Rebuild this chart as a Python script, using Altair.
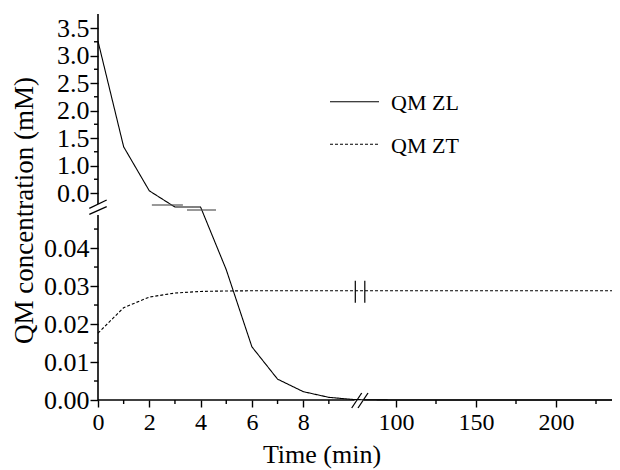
import altair as alt
import pandas as pd

# ---- data ----
zl_time = [0, 1, 2, 3, 4, 5, 6, 7, 8, 9, 10, 100, 150, 200, 235]
zl_conc = [3.26, 1.34, 0.54, 0.23, 0.23, 0.0343, 0.0140, 0.0055, 0.0022, 0.0007, 0.0001, 0, 0, 0, 0]
zt_time = [0, 1, 2, 3, 4, 5, 6, 7, 8, 9, 10, 100, 150, 200, 235]
zt_conc = [0.0176, 0.0243, 0.0271, 0.02815, 0.02858, 0.0287, 0.02875, 0.02876, 0.02876,
           0.02876, 0.02876, 0.02876, 0.02876, 0.02876, 0.02876]
series_names = ["QM ZL", "QM ZT"]

x_major = [0, 2, 4, 6, 8, 100, 150, 200]
x_minor = [1, 3, 5, 7, 9, 125, 175, 225]
y_major = [0, 0.01, 0.02, 0.03, 0.04, 0.5, 1.0, 1.5, 2.0, 2.5, 3.0, 3.5]
y_minor = [0.005, 0.015, 0.025, 0.035, 0.045, 0.75, 1.25, 1.75, 2.25, 2.75, 3.25]

x_domain = [0, 10, 80, 235]          # broken time axis: 0-10 | 80-235
y_domain = [0, 0.0487, 0.3, 3.755]   # broken conc axis: lower | upper
bar_start = [2.1, 3.47]              # small horizontal break marks on ZL
bar_end = [3.31, 4.6]

W, H = 514, 386
FONT = "Liberation Serif"

xscale = alt.Scale(domain=x_domain, range=[0, 256.5, 266, W], nice=False, zero=False)
yscale = alt.Scale(domain=y_domain, range=[H, 201, 190, 0], nice=False, zero=False)

xaxis = alt.Axis(values=x_major, domain=False, grid=False, tickSize=7, tickWidth=1.4,
                 tickColor="black", labelFontSize=24, labelFont=FONT, labelColor="black",
                 labelPadding=3, labelOverlap=False, labelFlush=False, format="d",
                 title="Time (min)", titleFont=FONT, titleFontSize=26, titleFontWeight="normal",
                 titleColor="black", titleX=223.5, titleY=62, titleBaseline="alphabetic",
                 titleAlign="center")
yaxis = alt.Axis(values=y_major, domain=False, grid=False, tickSize=8, tickWidth=1.4,
                 tickColor="black", labelFontSize=26, labelFont=FONT, labelColor="black",
                 labelPadding=1, labelOverlap=False, labelFlush=False,
                 labelExpr="datum.value < 0.1 ? format(datum.value, '.2f') : (abs(datum.value - 0.5) < 1e-9 ? '0.0' : format(datum.value, '.1f'))",
                 title="QM concentration (mM)", titleFont=FONT, titleFontSize=27,
                 titleFontWeight="normal", titleColor="black", titleX=-66, titleY=196,
                 titleBaseline="alphabetic", titleAlign="center")


def X(field="t"):
    return alt.X(f"{field}:Q", scale=xscale, axis=xaxis)


def Y(field="v"):
    return alt.Y(f"{field}:Q", scale=yscale, axis=yaxis)


lines_df = pd.DataFrame({
    "t": zl_time + zt_time,
    "v": zl_conc + zt_conc,
    "series": [series_names[0]] * len(zl_time) + [series_names[1]] * len(zt_time),
})

lines = alt.Chart(lines_df).mark_line(color="black", strokeWidth=1.1).encode(
    x=X(), y=Y(),
    strokeDash=alt.StrokeDash("series:N", scale=alt.Scale(domain=series_names, range=[[1, 0], [3, 2]]),
                              legend=None),
    detail="series:N",
)

# axis lines (broken)
xdom_df = pd.DataFrame({"t": [x_domain[0], x_domain[2]], "t2": [x_domain[1], x_domain[3]], "v": [0, 0]})
xdom = alt.Chart(xdom_df).mark_rule(color="black", strokeWidth=1.6).encode(
    x=X(), x2=alt.X2("t2"), y=Y())
ydom_df = pd.DataFrame({"t": [0, 0], "v": [y_domain[0], y_domain[2]], "v2": [y_domain[1], y_domain[3]]})
ydom = alt.Chart(ydom_df).mark_rule(color="black", strokeWidth=1.6).encode(
    x=X(), y=Y(), y2=alt.Y2("v2"))

# minor ticks
xmin_df = pd.DataFrame({"t": x_minor})
xmin = alt.Chart(xmin_df).mark_rule(color="black", strokeWidth=1.4).encode(
    x=X(), y=alt.value(H), y2=alt.value(H + 4))
ymin_df = pd.DataFrame({"v": y_minor})
ymin = alt.Chart(ymin_df).mark_rule(color="black", strokeWidth=1.4).encode(
    y=Y(), x=alt.value(0), x2=alt.value(-4))

# break marks
xb_df = pd.DataFrame({"t": [x_domain[1]], "v": [0]})
xslash1 = alt.Chart(xb_df).mark_rule(color="black", strokeWidth=1.3, xOffset=-2.8, x2Offset=7.2,
                                      yOffset=8, y2Offset=-7).encode(
    x=X(), x2=alt.X2("t"), y=Y(), y2=alt.Y2("v"))
xslash2 = alt.Chart(xb_df).mark_rule(color="black", strokeWidth=1.3, xOffset=3.5, x2Offset=13.5,
                                      yOffset=8, y2Offset=-7).encode(
    x=X(), x2=alt.X2("t"), y=Y(), y2=alt.Y2("v"))

yb_df = pd.DataFrame({"t": [0], "v": [y_domain[2]]})
yslash1 = alt.Chart(yb_df).mark_rule(color="black", strokeWidth=1.3, xOffset=-8.7, x2Offset=8.7,
                                      yOffset=4.3, y2Offset=-4).encode(
    x=X(), x2=alt.X2("t"), y=Y(), y2=alt.Y2("v"))
yslash2 = alt.Chart(yb_df).mark_rule(color="black", strokeWidth=1.3, xOffset=-8.7, x2Offset=8.7,
                                      yOffset=10.3, y2Offset=2.7).encode(
    x=X(), x2=alt.X2("t"), y=Y(), y2=alt.Y2("v"))

# "||" on the ZT line at the time break
zb_df = pd.DataFrame({"t": [x_domain[1], x_domain[2]], "v": [zt_conc[-1], zt_conc[-1]]})
zbreak = alt.Chart(zb_df).mark_rule(color="black", strokeWidth=1.2, xOffset=0.8, x2Offset=0.8,
                                     yOffset=-10, y2Offset=12).encode(
    x=X(), x2=alt.X2("t"), y=Y(), y2=alt.Y2("v"))

# small horizontal marks on ZL crossing the conc break
hb_df = pd.DataFrame({"t": bar_start, "t2": bar_end, "v": [y_domain[2], y_domain[2]], "k": [0, 1]})
hbar1 = alt.Chart(hb_df).transform_filter("datum.k == 0").mark_rule(
    color="#555555", strokeWidth=1.2, yOffset=1).encode(x=X(), x2=alt.X2("t2"), y=Y())
hbar2 = alt.Chart(hb_df).transform_filter("datum.k == 1").mark_rule(
    color="#555555", strokeWidth=1.2, yOffset=6).encode(x=X(), x2=alt.X2("t2"), y=Y())

# legend
leg1_df = pd.DataFrame({"name": [series_names[0]]})
leg2_df = pd.DataFrame({"name": [series_names[1]]})
leg_line1 = alt.Chart(leg1_df).mark_rule(color="black", strokeWidth=1.1).encode(
    x=alt.value(232), x2=alt.value(281), y=alt.value(87.7))
leg_line2 = alt.Chart(leg2_df).mark_rule(color="black", strokeWidth=1.1, strokeDash=[3, 2]).encode(
    x=alt.value(232), x2=alt.value(281), y=alt.value(130.3))
leg_text1 = alt.Chart(leg1_df).mark_text(font=FONT, fontSize=22, align="left", baseline="alphabetic",
                                          color="black").encode(
    x=alt.value(293), y=alt.value(96), text="name:N")
leg_text2 = alt.Chart(leg2_df).mark_text(font=FONT, fontSize=22, align="left", baseline="alphabetic",
                                          color="black").encode(
    x=alt.value(293), y=alt.value(139), text="name:N")

chart = alt.layer(
    xdom, ydom, xmin, ymin, lines, xslash1, xslash2, yslash1, yslash2, zbreak, hbar1, hbar2,
    leg_line1, leg_line2, leg_text1, leg_text2,
).properties(
    width=W, height=H,
    autosize=alt.AutoSizeParams(type="none"),
    padding={"left": 90, "top": 6, "right": 0, "bottom": 70},
    background="white",
).configure_view(stroke=None).configure_axis(
    labelFont=FONT, labelColor="black",
    titleFont=FONT, titleFontWeight="normal", titleColor="black",
).configure_text(font=FONT)

chart.save("out.html", embed_options={"renderer": "svg", "actions": False})
